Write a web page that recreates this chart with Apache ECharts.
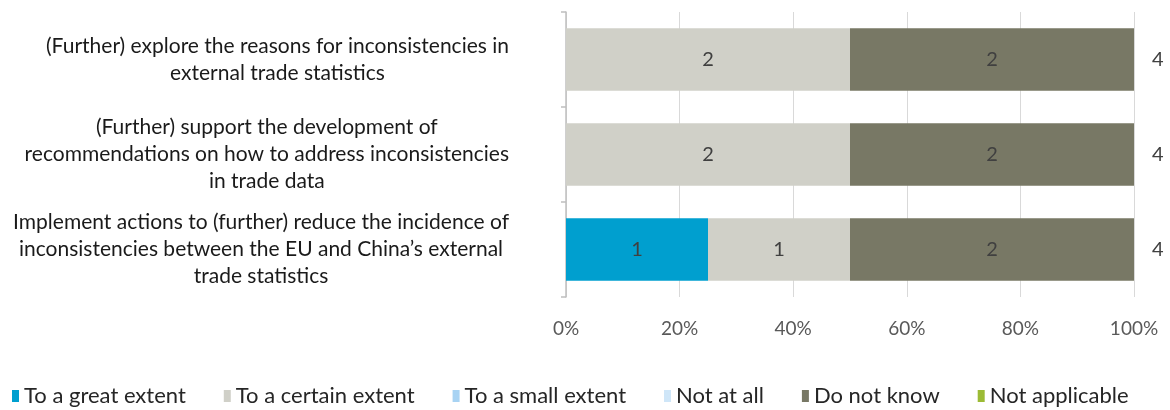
<!DOCTYPE html>
<html>
<head>
<meta charset="utf-8">
<script src="https://cdn.jsdelivr.net/npm/echarts@6/dist/echarts.min.js"></script>
<style>
  html, body { margin: 0; padding: 0; background: #fff; }
  #container { width: 1170px; height: 410px; }
</style>
</head>
<body>
<div id="container"></div>
<script>
// categories listed top to bottom
var categories = [
    '(Further) explore the reasons for inconsistencies in\nexternal trade statistics',
    '(Further) support the development of\nrecommendations on how to address inconsistencies\nin trade data',
    'Implement actions to (further) reduce the incidence of\ninconsistencies between the EU and China\u2019s external\ntrade statistics'
];

var seriesNames = ['To a great extent', 'To a certain extent', 'To a small extent', 'Not at all', 'Do not know', 'Not applicable'];
var seriesColors = ['#009fcf', '#d0d0c8', '#a8d3f3', '#cfe6f8', '#787865', '#9cbb35'];

// counts per category (same order as categories)
var greatExtent   = [0, 0, 1];
var certainExtent = [2, 2, 1];
var smallExtent   = [0, 0, 0];
var notAtAll      = [0, 0, 0];
var doNotKnow     = [2, 2, 2];
var notApplicable = [0, 0, 0];

var counts = [greatExtent, certainExtent, smallExtent, notAtAll, doNotKnow, notApplicable];

var totals = categories.map(function (c, i) {
    var s = 0;
    counts.forEach(function (arr) { s += arr[i]; });
    return s;
});

var dom = document.getElementById('container');
var myChart = echarts.init(dom, null, { renderer: 'canvas' });

var series = counts.map(function (arr, k) {
    return {
        name: seriesNames[k],
        type: 'bar',
        stack: 'total',
        barWidth: '66%',
        itemStyle: { color: seriesColors[k] },
        label: {
            show: true,
            position: 'inside',
            fontFamily: 'Lato',
            fontSize: 20,
            color: '#404040',
            formatter: function (p) { return arr[p.dataIndex] ? String(arr[p.dataIndex]) : ''; }
        },
        data: arr.map(function (v, i) { return v / totals[i] * 100; })
    };
});

// totals drawn to the right of the bars
series.push({
    name: 'Total',
    type: 'bar',
    stack: 'total',
    barWidth: '66%',
    itemStyle: { color: 'transparent' },
    label: {
        show: true,
        position: 'right',
        distance: 18,
        fontFamily: 'Lato',
        fontSize: 20,
        color: '#404040',
        formatter: function (p) { return String(totals[p.dataIndex]); }
    },
    data: totals.map(function () { return 0; })
});

var option = {
    animation: false,
    grid: { left: 566, right: 36, top: 12, bottom: 113, containLabel: false },
    legend: {
        data: seriesNames,
        top: 385,
        left: 12,
        padding: 0,
        itemWidth: 7,
        itemHeight: 12,
        itemGap: 38,
        icon: 'rect',
        textStyle: { fontFamily: 'Lato', fontSize: 22, color: '#262626' }
    },
    xAxis: {
        type: 'value',
        min: 0,
        max: 100,
        interval: 20,
        axisLine: { show: false },
        axisTick: { show: false },
        splitLine: { show: true, lineStyle: { color: '#d9d9d9', width: 1 } },
        axisLabel: {
            margin: 22,
            fontFamily: 'Lato',
            fontSize: 19,
            color: '#595959',
            formatter: '{value}%'
        }
    },
    yAxis: {
        type: 'category',
        inverse: true,
        data: categories,
        axisLine: { show: true, lineStyle: { color: '#bfbfbf', width: 1.5 } },
        axisTick: { show: true, length: 5, lineStyle: { color: '#bfbfbf', width: 1.5 } },
        axisLabel: {
            margin: 57,
            color: '#1a1a1a',
            formatter: function (v) {
                return v.split('\n').map(function (l) { return '{c|' + l + '}'; }).join('\n');
            },
            rich: {
                c: { align: 'center', fontFamily: 'Lato', fontSize: 21, lineHeight: 27, color: '#1a1a1a' }
            }
        }
    },
    series: series
};

myChart.setOption(option);
window.addEventListener('resize', myChart.resize);
</script>
</body>
</html>
